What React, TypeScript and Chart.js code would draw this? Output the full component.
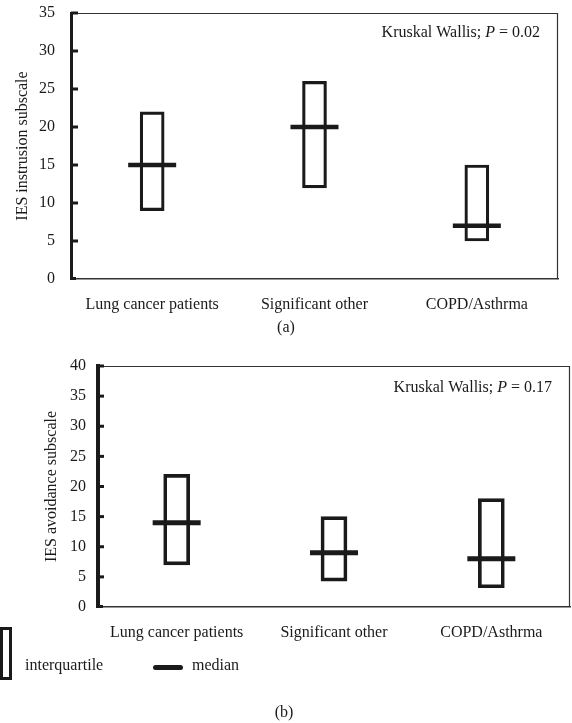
import React, { useEffect, useRef } from 'react';
import { Chart, registerables } from 'chart.js';

Chart.register(...registerables);

const categories = ['Lung cancer patients', 'Significant other', 'COPD/Asthrma'];

const intrusionQ1 = [9, 12, 5];
const intrusionQ3 = [22, 26, 15];
const intrusionMedian = [15, 20, 7];

const avoidanceQ1 = [7, 4.3, 3.2];
const avoidanceQ3 = [22, 15, 18];
const avoidanceMedian = [14, 9, 8];

const intrusionTitle = 'IES instrusion subscale';
const avoidanceTitle = 'IES avoidance subscale';
const intrusionP = '0.02';
const avoidanceP = '0.17';

const FONT = '"Liberation Serif", "Times New Roman", serif';
const INK = '#1a1a1a';

type Cfg = {
  q1: number[];
  q3: number[];
  med: number[];
  yTitle: string;
  yMax: number;
  pValue: string;
  yAxisWidth: number;
  xAxisHeight: number;
  padTop: number;
  padRight: number;
  yBorder: number;
  yTickPad: number;
  yTitlePad: number;
  xTickPad: number;
  boxWidth: number;
  boxBorder: number;
  medWidth: number;
  tickLen: number;
  annTop: number;
};

function framePlugin(c: Cfg) {
  return {
    id: 'frame',
    afterDraw(chart: any) {
      const { ctx, chartArea } = chart;
      const { left, right, top, bottom } = chartArea;
      ctx.save();
      // top and right thin borders
      ctx.strokeStyle = '#333';
      ctx.lineWidth = 1.2;
      ctx.beginPath();
      ctx.moveTo(left, top + 0.5);
      ctx.lineTo(right - 0.5, top + 0.5);
      ctx.lineTo(right - 0.5, bottom);
      ctx.stroke();
      // inward tick marks on the y axis
      const ys = chart.scales.y;
      ctx.strokeStyle = INK;
      ctx.lineWidth = 3;
      ys.ticks.forEach((t: any) => {
        if (t.value === 0) return;
        const py = ys.getPixelForValue(t.value);
        ctx.beginPath();
        ctx.moveTo(left, py);
        ctx.lineTo(left + c.tickLen, py);
        ctx.stroke();
      });
      // corner at the origin
      ctx.beginPath();
      ctx.moveTo(left, bottom - 0.5);
      ctx.lineTo(left + 5, bottom - 0.5);
      ctx.stroke();
      // annotation
      const x1 = right - 18;
      const y1 = top + c.annTop;
      const partA = 'Kruskal Wallis; ';
      const partB = 'P';
      const partC = ' = ' + c.pValue;
      ctx.fillStyle = INK;
      ctx.textBaseline = 'middle';
      ctx.textAlign = 'left';
      ctx.font = '16px ' + FONT;
      const wA = ctx.measureText(partA).width;
      const wC = ctx.measureText(partC).width;
      ctx.font = 'italic 16px ' + FONT;
      const wB = ctx.measureText(partB).width;
      let x = x1 - (wA + wB + wC);
      ctx.font = '16px ' + FONT;
      ctx.fillText(partA, x, y1);
      x += wA;
      ctx.font = 'italic 16px ' + FONT;
      ctx.fillText(partB, x, y1);
      x += wB;
      ctx.font = '16px ' + FONT;
      ctx.fillText(partC, x, y1);
      ctx.restore();
    },
  };
}

function makeConfig(c: Cfg): any {
  return {
    type: 'bar',
    data: {
      labels: categories,
      datasets: [
        {
          type: 'line',
          label: 'median',
          data: c.med,
          showLine: false,
          pointStyle: 'line',
          pointRadius: 24,
          pointHoverRadius: 24,
          pointBorderWidth: c.medWidth,
          pointHoverBorderWidth: c.medWidth,
          pointBorderColor: INK,
          pointBackgroundColor: INK,
          clip: false,
          order: 0,
        },
        {
          type: 'bar',
          label: 'interquartile',
          data: categories.map((_, i) => [c.q1[i], c.q3[i]]),
          backgroundColor: 'rgba(255,255,255,0)',
          borderColor: INK,
          borderWidth: c.boxBorder,
          borderSkipped: false,
          barThickness: c.boxWidth,
          order: 1,
        },
      ],
    },
    options: {
      responsive: false,
      animation: false,
      layout: {
        autoPadding: false,
        padding: { top: c.padTop, right: c.padRight, left: 0, bottom: 0 },
      },
      plugins: {
        legend: { display: false },
        tooltip: { enabled: false },
        title: { display: false },
      },
      scales: {
        x: {
          offset: true,
          grid: { display: false, drawTicks: false },
          border: { display: true, color: '#333', width: 1.5 },
          ticks: {
            color: INK,
            font: { family: FONT, size: 16 },
            padding: c.xTickPad,
            maxRotation: 0,
            autoSkip: false,
          },
          afterFit: (s: any) => {
            s.height = c.xAxisHeight;
            s.paddingLeft = 0;
            s.paddingRight = 0;
          },
        },
        y: {
          min: 0,
          max: c.yMax,
          grid: { display: false, drawTicks: false },
          border: { display: true, color: INK, width: c.yBorder },
          ticks: {
            stepSize: 5,
            color: INK,
            font: { family: FONT, size: 16 },
            padding: c.yTickPad,
          },
          title: {
            display: true,
            text: c.yTitle,
            color: INK,
            font: { family: FONT, size: 16 },
            padding: { top: c.yTitlePad, bottom: 0 },
          },
          afterFit: (s: any) => {
            s.width = c.yAxisWidth;
            s.paddingTop = 0;
            s.paddingBottom = 0;
          },
        },
      },
    },
    plugins: [framePlugin(c)],
  };
}

function BoxChart({ cfg, width, height, top }: { cfg: Cfg; width: number; height: number; top: number }) {
  const ref = useRef<HTMLCanvasElement | null>(null);
  useEffect(() => {
    if (!ref.current) return;
    const chart = new Chart(ref.current, makeConfig(cfg));
    return () => chart.destroy();
  }, [cfg]);
  return (
    <canvas
      ref={ref}
      width={width}
      height={height}
      style={{ position: 'absolute', left: 0, top, width, height }}
    />
  );
}

const cfgA: Cfg = {
  q1: intrusionQ1,
  q3: intrusionQ3,
  med: intrusionMedian,
  yTitle: intrusionTitle,
  yMax: 35,
  pValue: intrusionP,
  yAxisWidth: 71,
  xAxisHeight: 61,
  padTop: 13,
  padRight: 14,
  yBorder: 3,
  yTickPad: 16,
  yTitlePad: 13,
  xTickPad: 16,
  boxWidth: 24,
  boxBorder: 2.5,
  medWidth: 4.5,
  tickLen: 7,
  annTop: 20,
};

const cfgB: Cfg = {
  q1: avoidanceQ1,
  q3: avoidanceQ3,
  med: avoidanceMedian,
  yTitle: avoidanceTitle,
  yMax: 40,
  pValue: avoidanceP,
  yAxisWidth: 98,
  xAxisHeight: 116,
  padTop: 26,
  padRight: 2,
  yBorder: 4,
  yTickPad: 12,
  yTitlePad: 42,
  xTickPad: 16,
  boxWidth: 26,
  boxBorder: 3,
  medWidth: 5,
  tickLen: 6,
  annTop: 22,
};

const textStyle: React.CSSProperties = {
  position: 'absolute',
  fontFamily: FONT,
  fontSize: 16,
  lineHeight: '20px',
  height: 20,
  color: INK,
  whiteSpace: 'nowrap',
};

export default function App() {
  return (
    <div style={{ position: 'absolute', left: 0, top: 0, width: 572, height: 723, background: '#fff', overflow: 'hidden' }}>
      <BoxChart cfg={cfgA} width={572} height={340} top={0} />
      <div style={{ ...textStyle, left: 0, width: 572, top: 317, textAlign: 'center' }}>(a)</div>
      <BoxChart cfg={cfgB} width={572} height={383} top={340} />
      <div
        style={{
          position: 'absolute',
          left: 0,
          top: 627,
          width: 12,
          height: 53,
          border: '3px solid ' + INK,
          boxSizing: 'border-box',
        }}
      />
      <div style={{ ...textStyle, left: 25, top: 655 }}>interquartile</div>
      <div
        style={{
          position: 'absolute',
          left: 153,
          top: 665,
          width: 30,
          height: 5,
          background: INK,
          borderRadius: 2.5,
        }}
      />
      <div style={{ ...textStyle, left: 192, top: 655 }}>median</div>
      <div style={{ ...textStyle, left: 0, width: 568, top: 702, textAlign: 'center' }}>(b)</div>
    </div>
  );
}
